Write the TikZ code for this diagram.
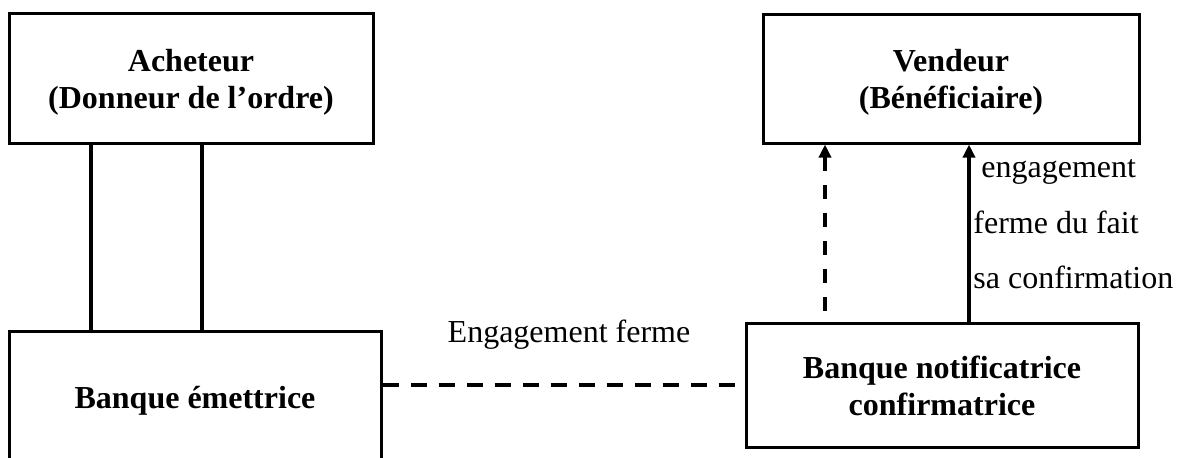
\documentclass[tikz,border=0pt]{standalone}
\usepackage{fontspec}
\setmainfont{Liberation Serif}
\usetikzlibrary{arrows.meta}
\begin{document}
\begin{tikzpicture}[x=0.5pt,y=-0.5pt,
  box/.style={draw, line width=1.5pt, inner sep=0pt, align=center,
    font=\bfseries\fontsize{16}{18.5}\selectfont},
  lab/.style={inner sep=0pt, font=\fontsize{16}{18.5}\selectfont},
  conn/.style={line width=1.75pt},
  dashline/.style={line width=1.75pt, dash pattern=on 8pt off 6pt},
  arr/.style={line width=1.75pt, -{Triangle[length=6.5pt,width=6pt]}}]
\useasboundingbox (0,0) rectangle (1180,457);
\clip (0,0) rectangle (1180,457);
\node[box, minimum width=182pt, minimum height=65pt] (ach) at (191,78)
  {\rule{0pt}{15pt}Acheteur\\(Donneur de l’ordre)};
\node[box, minimum width=188pt, minimum height=64.5pt] (vend) at (951,78.5)
  {\rule{0pt}{15pt}Vendeur\\(Bénéficiaire)};
\node[box, minimum width=196pt, minimum height=62pt] (notif) at (942,385)
  {\rule{0pt}{12.5pt}Banque notificatrice\\confirmatrice};
\node[box, minimum width=186pt, minimum height=74.5pt] (em) at (195,405.5) {};
\node[lab, font=\bfseries\fontsize{16}{18.5}\selectfont, anchor=base] (emt) at (195,408)
  {Banque émettrice};
% connectors
\coordinate (c1) at (91,0);
\coordinate (c2) at (202,0);
\coordinate (h) at (0,385);
\coordinate (dv) at (825,0);
\coordinate (sv) at (969,0);
\draw[conn] (ach.south -| c1) -- (em.north -| c1);
\draw[conn] (ach.south -| c2) -- (em.north -| c2);
\draw[dashline] (em.east |- h) -- (notif.west |- h);
\draw[arr, dash pattern=on 7pt off 7pt, dash phase=8.5pt] (notif.north -| dv) -- (vend.south -| dv);
\draw[arr] (notif.north -| sv) -- (vend.south -| sv);
% labels
\node[lab, anchor=base] (ef) at (569,342) {Engagement ferme};
\node[lab, anchor=base west] (l1) at (973,177) {\hspace*{4pt}engagement};
\node[lab, anchor=base west] (l2) at (973,233) {ferme du fait};
\node[lab, anchor=base west] (l3) at (973,288) {sa confirmation};
\end{tikzpicture}
\end{document}
